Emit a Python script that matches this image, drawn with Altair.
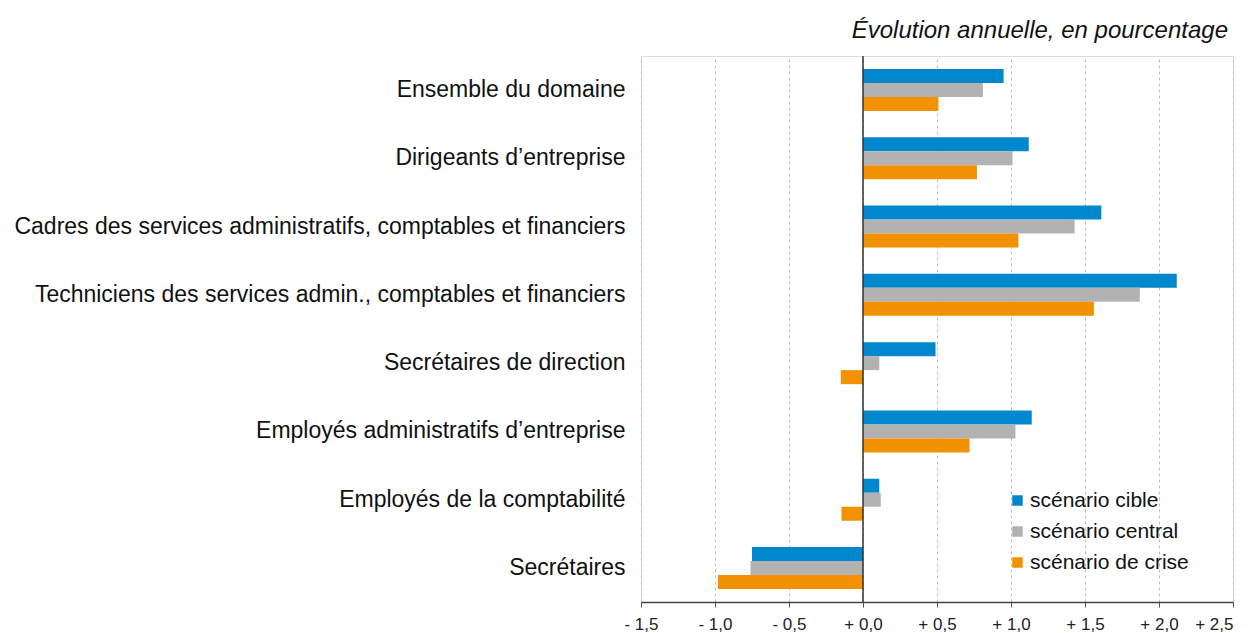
import altair as alt
import pandas as pd

categories = [
    "Ensemble du domaine",
    "Dirigeants d\u2019entreprise",
    "Cadres des services administratifs, comptables et financiers",
    "Techniciens des services admin., comptables et financiers",
    "Secr\u00e9taires de direction",
    "Employ\u00e9s administratifs d\u2019entreprise",
    "Employ\u00e9s de la comptabilit\u00e9",
    "Secr\u00e9taires",
]
scenarios = ["sc\u00e9nario cible", "sc\u00e9nario central", "sc\u00e9nario de crise"]
cible = [0.95, 1.12, 1.61, 2.12, 0.49, 1.14, 0.11, -0.75]
central = [0.81, 1.01, 1.43, 1.87, 0.11, 1.03, 0.12, -0.76]
crise = [0.51, 0.77, 1.05, 1.56, -0.15, 0.72, -0.145, -0.98]
colors = ["#0088CE", "#B2B2B2", "#F39200"]
x_ticks = [-1.5, -1.0, -0.5, 0.0, 0.5, 1.0, 1.5, 2.0, 2.5]

rows = []
for s, vals in zip(scenarios, [cible, central, crise]):
    for c, v in zip(categories, vals):
        rows.append({"cat": c, "scen": s, "val": v})
df = pd.DataFrame(rows)

FONT = "Liberation Sans"

label_expr = ("(datum.value < 0 ? '- ' : '+ ') + "
              "replace(format(abs(datum.value), '.1f'), '.', ',')")

bars = alt.Chart(df).mark_bar(size=14).encode(
    x=alt.X("val:Q",
            scale=alt.Scale(domain=[-1.5, 2.5], nice=False, zero=False),
            axis=alt.Axis(values=x_ticks, labelExpr=label_expr, title=None,
                          grid=True, gridDash=[3, 3], gridColor="#BDBDBD",
                          domainColor="#444444", domainWidth=1.5,
                          tickColor="#555555", tickSize=5,
                          labelFont=FONT, labelFontSize=17, labelColor="#222222",
                          labelAlign=alt.condition("datum.value >= 2.5",
                                                   alt.value("right"),
                                                   alt.value("center")),
                          labelPadding=9, labelFlush=False, labelOverlap=False)),
    y=alt.Y("cat:N", sort=categories,
            scale=alt.Scale(paddingInner=0.385, paddingOuter=0.19),
            axis=alt.Axis(title=None, ticks=False, domain=False,
                          labelFont=FONT, labelFontSize=23, labelColor="#111111",
                          labelPadding=16, labelLimit=700)),
    yOffset=alt.YOffset("scen:N", sort=scenarios),
    color=alt.Color("scen:N", sort=scenarios,
                    scale=alt.Scale(domain=scenarios, range=colors),
                    legend=alt.Legend(title=None, orient="none",
                                      legendX=366, legendY=434,
                                      symbolType="square", symbolSize=110,
                                      symbolStrokeWidth=0,
                                      labelFont=FONT, labelFontSize=21,
                                      labelColor="#111111",
                                      rowPadding=9, labelOffset=2)),
)

zero = alt.Chart(pd.DataFrame({"z": [0.0]})).mark_rule(
    color="#333333", strokeWidth=1.5).encode(x="z:Q")

chart = alt.layer(bars, zero).properties(
    width=592, height=546,
    autosize=alt.AutoSizeParams(type="none"),
    padding={"left": 633, "top": 48, "right": 14, "bottom": 33},
    title=alt.TitleParams(
        "\u00c9volution annuelle, en pourcentage",
        anchor="end", frame="group", font=FONT, fontSize=24, fontStyle="italic",
        fontWeight="normal", color="#111111", offset=12, dx=-5),
).configure_view(stroke="#888888", strokeWidth=1.5).configure(background="white")

chart.save("out.html", embed_options={"renderer": "svg", "actions": False})
